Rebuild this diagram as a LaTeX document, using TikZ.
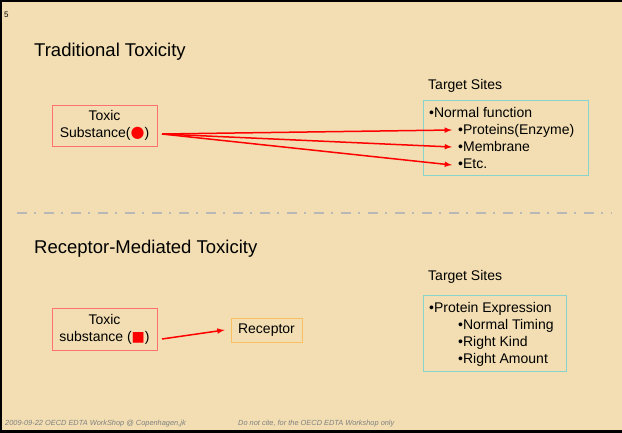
\documentclass[tikz,border=0pt]{standalone}
\usepackage{fontspec}
\setmainfont{Liberation Sans}
\newfontfamily\symfont{DejaVu Sans}
\definecolor{bgtan}{HTML}{F2DEB2}
\definecolor{bglight}{HTML}{FFFCE0}
\definecolor{boxred}{HTML}{FF7070}
\definecolor{boxteal}{HTML}{88D4CC}
\definecolor{boxorange}{HTML}{F8C060}
\begin{document}
\begin{tikzpicture}
[x=1pt,y=-1pt,>=latex,%
  every node/.style={inner sep=0pt,font=\fontsize{14}{17}\selectfont},%
  title/.style={anchor=base west,font=\fontsize{18.5}{22}\selectfont},%
  item/.style={anchor=base west},%
  toxbox/.style={draw=boxred,thick,align=center,minimum width=105pt,minimum height=41pt},%
  sitebox/.style={draw=boxteal,thick},%
  note/.style={anchor=base west,font=\fontsize{7.4}{8}\selectfont\itshape,text=gray},%
  link/.style={->,red,line width=1.5pt}]
% slide background and frame
\shade[top color=bgtan,middle color=bglight,bottom color=bgtan] (0,0) rectangle (622,432);
\useasboundingbox (0,0) rectangle (622,432);
\draw[line width=4pt] (0,432) -- (0,0) -- (622,0);
\draw[line width=4pt] (0,432) -- (622,432);
\node[anchor=base west,font=\fontsize{8}{9}\selectfont] (page) at (4,17) {5};
% upper half
\node[title] (trad) at (34,56) {Traditional Toxicity};
\node[item] (sites1) at (428,89) {Target Sites};
\node[toxbox] (tox1) at (104.5,125.5) {Toxic\\Substance(\textcolor{red}{\fontsize{16}{17}\symfont ●})};
\node[sitebox,minimum width=165pt,minimum height=75pt] (box1) at (505.5,137.5) {};
\node[item] (normal) at (429,117) {•Normal function};
\node[item] (prot) at (458,134) {•Proteins(Enzyme)};
\node[item] (memb) at (458,151) {•Membrane};
\node[item] (etc) at (458,168) {•Etc.};
\coordinate (src1) at (162,134);
\draw[link] (src1) -- ([xshift=-6pt,yshift=4pt]prot.base west);
\draw[link] (src1) -- ([xshift=-6pt,yshift=4pt]memb.base west);
\draw[link] (src1) -- ([xshift=-6pt,yshift=3pt]etc.base west);
% separator
\draw[black!28,line width=2pt,dash pattern=on 10pt off 7pt on 2pt off 8pt] (17,213) -- (612,213);
% lower half
\node[title] (recmed) at (34,253) {Receptor-Mediated Toxicity};
\node[item] (sites2) at (428,280) {Target Sites};
\node[toxbox,minimum height=42pt] (tox2) at (104.5,329) {Toxic\\substance (\textcolor{red}{\symfont ■})};
\node[draw=boxorange,thick,minimum width=71pt,minimum height=24pt] (rec) at (266.5,330) {Receptor};
\node[sitebox,minimum width=143pt,minimum height=76pt] (box2) at (494.5,333) {};
\node[item] (expr) at (429,312) {•Protein Expression};
\node[item] (timing) at (458,329) {•Normal Timing};
\node[item] (kind) at (458,346) {•Right Kind};
\node[item] (amount) at (458,363) {•Right Amount};
\coordinate (src2) at (162,339);
\draw[link] (src2) -- ([xshift=-6pt]rec.west);
% footer
\node[note] (foot1) at (5,425) {2009-09-22 OECD EDTA WorkShop @ Copenhagen,jk};
\node[note] (foot2) at (238,425) {Do not cite, for the OECD EDTA Workshop only};
\end{tikzpicture}
\end{document}
